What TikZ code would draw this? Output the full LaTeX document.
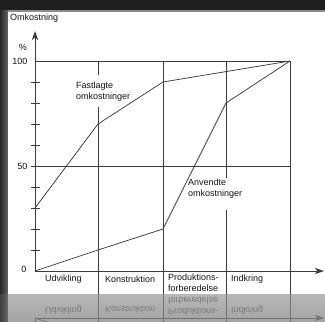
\documentclass[tikz,border=0pt]{standalone}
\usepackage{fontspec}
\setmainfont{Liberation Sans}
\usetikzlibrary{arrows.meta}
\definecolor{ink}{HTML}{151515}
\definecolor{gridc}{HTML}{3c3c3c}
\newif\ifmirrorpart
\tikzset{
  lbl/.style={font=\fontsize{9}{11}\selectfont, text=ink, inner sep=0pt, align=left},
  gridline/.style={draw=gridc, line width=0.75pt},
  axisline/.style={draw=gridc, line width=0.8pt, -{Stealth[length=9pt,width=6pt,inset=2.5pt]}},
  curve/.style={draw=gridc, line width=0.75pt, line join=round},
}
\newcommand\drawchart{%
  % axes
  \coordinate (O) at (35,271);
  \coordinate (ytip) at (35,31);
  \coordinate (xtip) at (324,271);
  \draw[axisline] (O) -- (ytip);
  \draw[axisline] (O) -- (xtip);
  % grid
  \draw[gridline] (35,61) -- (290,61);
  \draw[gridline] (31,166) -- (290,166);
  \draw[gridline] (98,61) -- (98,75) (98,107) -- (98,300);
  \draw[gridline] (163,61) -- (163,300);
  \draw[gridline] (226,61) -- (226,178) (226,210) -- (226,300);
  \draw[gridline] (290,61) -- (290,300);
  \foreach \i in {1,2,3,4,6,7,8,9} \draw[gridline] (31,{271-21*\i}) -- (40,{271-21*\i});
  % curves
  \coordinate (f0) at (35,208);
  \coordinate (f1) at (98,124);
  \coordinate (f2) at (163,82);
  \coordinate (f3) at (290,61);
  \draw[curve] (f0) -- (f1) -- (f2) -- (f3);
  \coordinate (a0) at (35,271);
  \coordinate (a1) at (98,250);
  \coordinate (a2) at (163,229);
  \coordinate (a3) at (226,103);
  \draw[curve] (a0) -- (a1) -- (a2) -- (a3) -- (f3);
  % labels
  \ifmirrorpart\else
  \node[lbl, anchor=west] (ylab) at (10,18) {Omkostning};
  \node[lbl, anchor=east] (pct) at (27,47) {\%};
  \node[lbl, anchor=east] (l100) at (27.5,61) {100};
  \node[lbl, anchor=east] (l50) at (27.5,166) {50};
  \node[lbl, anchor=east] (l0) at (26.5,269) {0};
  \node[lbl, anchor=west] (fast) at (76,91.5) {Fastlagte\\omkostninger};
  \node[lbl, anchor=west] (anv) at (188,188.5) {Anvendte\\omkostninger};
  \fi
  \node[lbl, anchor=west] (p1) at (45,279.5) {Udvikling};
  \node[lbl, anchor=west] (p2) at (105,279.5) {Konstruktion};
  \node[lbl, anchor=north west] (p3) at (168,274) {Produktions-\\forberedelse};
  \node[lbl, anchor=west] (p4) at (231,279.5) {Indkring};
}
\begin{document}
\begin{tikzpicture}[x=1pt,y=-1pt]
  \useasboundingbox (0,0) rectangle (325,322);
  % frame background
  \fill[black!88] (0,0) rectangle (325,322);
  \fill[white] (8,11) rectangle (325,294);
  \fill[black!45] (8,10) rectangle (325,11.5);
  \shade[left color=black!85, right color=black!60] (0,10) rectangle (8,294);
  \shade[left color=black!75, right color=black!60] (0,294) rectangle (8,322);
  \shade[top color=black!28, bottom color=black!36] (8,294) rectangle (325,322);
  % chart
  \drawchart
  % reflection
  \begin{scope}
    \clip (8,294) rectangle (325,322);
    \begin{scope}[yshift=-589pt, yscale=-1, transform shape]
      \mirrorparttrue
      \colorlet{ink}{black!52}
      \colorlet{gridc}{black!55}
      \drawchart
    \end{scope}
  \end{scope}
\end{tikzpicture}
\end{document}
